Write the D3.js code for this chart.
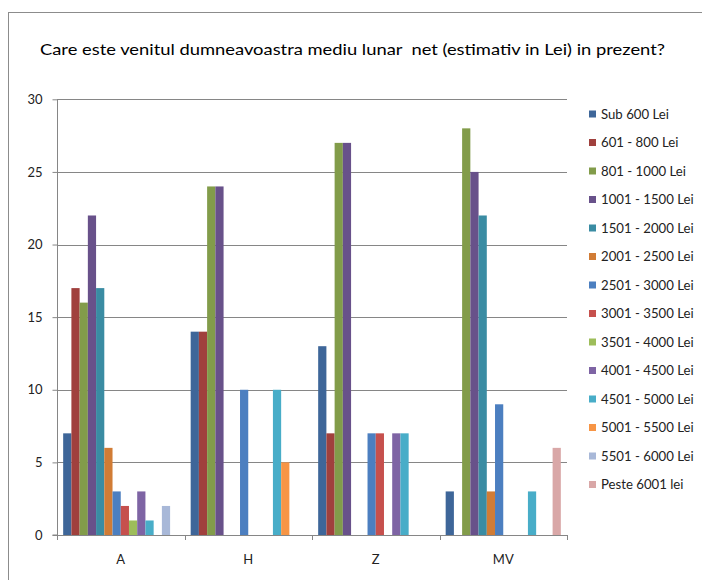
<!DOCTYPE html>
<html><head><meta charset="utf-8">
<script src="https://cdn.jsdelivr.net/npm/d3@7"></script>
<style>body{margin:0;background:#fff}svg{display:block}text{font-family:Lato,"Open Sans",sans-serif}</style>
</head><body><svg id="c" width="702" height="580"></svg>
<script>
const title = "Care este venitul dumneavoastra mediu lunar  net (estimativ in Lei) in prezent?";
const categories = ["A", "H", "Z", "MV"];
const seriesNames = ["Sub 600 Lei","601 - 800 Lei","801 - 1000 Lei","1001 - 1500 Lei","1501 - 2000 Lei","2001 - 2500 Lei","2501 - 3000 Lei","3001 - 3500 Lei","3501 - 4000 Lei","4001 - 4500 Lei","4501 - 5000 Lei","5001 - 5500 Lei","5501 - 6000 Lei","Peste 6001 lei"];
const seriesColors = ["#3E6699","#A0403D","#829C4A","#68518A","#3A8CA3","#D17C35","#4C7FC0","#C6504D","#9DBD5A","#7E64A4","#48ADC8","#F79545","#A8B8D8","#D9A7A7"];
// values[series][category]
const values = [
  [7, 14, 13, 3],
  [17, 14, 7, 0],
  [16, 24, 27, 28],
  [22, 24, 27, 25],
  [17, 0, 0, 22],
  [6, 0, 0, 3],
  [3, 10, 7, 9],
  [2, 0, 7, 0],
  [1, 0, 0, 0],
  [3, 0, 7, 0],
  [1, 10, 7, 3],
  [0, 5, 0, 0],
  [2, 0, 0, 0],
  [0, 0, 0, 6]
];
const yTicks = [0, 5, 10, 15, 20, 25, 30];

const svg = d3.select("#c");
const L = 57, R = 567, T = 99.3, B = 535;

// outer border
svg.append("rect").attr("x", 8.5).attr("y", 12.5).attr("width", 720).attr("height", 600)
  .attr("fill", "none").attr("stroke", "#8c8c8c").attr("stroke-width", 1);

svg.append("text").attr("x", 40).attr("y", 55).attr("font-size", 15).attr("fill", "#000")
  .style("white-space", "pre").attr("xml:space", "preserve")
  .attr("textLength", 625).attr("lengthAdjust", "spacingAndGlyphs").text(title);

const x0 = d3.scaleBand().domain(categories).range([L, R]).paddingInner(0).paddingOuter(0);
const x1 = d3.scaleBand().domain(d3.range(seriesNames.length)).range([0, x0.bandwidth()])
  .paddingInner(0).paddingOuter(0.75);
const y = d3.scaleLinear().domain([0, 30]).range([B, T]);

// gridlines
svg.append("g").selectAll("line").data(yTicks.filter(d => d > 0)).join("line")
  .attr("x1", L).attr("x2", R).attr("y1", d => Math.round(y(d)) + 0.5).attr("y2", d => Math.round(y(d)) + 0.5)
  .attr("stroke", "#868686").attr("stroke-width", 1);

// bars
const g = svg.append("g");
seriesNames.forEach((s, si) => {
  g.append("g").selectAll("rect").data(categories.map((c, ci) => ({c, v: values[si][ci]})).filter(d => d.v > 0)).join("rect")
    .attr("x", d => x0(d.c) + x1(si))
    .attr("width", x1.bandwidth())
    .attr("y", d => y(d.v))
    .attr("height", d => B - y(d.v))
    .attr("fill", seriesColors[si]);
});

// y axis
const yAxis = d3.axisLeft(y).tickValues(yTicks).tickSize(5).tickPadding(10);
const ya = svg.append("g").attr("transform", `translate(${L + 0.5},0)`).call(yAxis);
ya.select(".domain").attr("stroke", "#868686").attr("d", `M-5,${B}H0V${T}`);
ya.selectAll(".tick line").attr("stroke", "#868686");
ya.selectAll(".tick text").attr("font-size", 13).attr("fill", "#222").attr("font-family", "Lato");

// x axis
const xa = svg.append("g").attr("transform", `translate(0,${Math.round(B) + 0.5})`)
  .call(d3.axisBottom(x0).tickSize(0).tickPadding(19));
xa.select(".domain").attr("stroke", "#868686").attr("d", `M${L},0H${R}`);
xa.selectAll(".tick text").attr("font-size", 13).attr("fill", "#222").attr("font-family", "Lato");
svg.append("g").selectAll("line").data(d3.range(categories.length + 1)).join("line")
  .attr("x1", i => Math.round(L + i * x0.bandwidth()) + 0.5).attr("x2", i => Math.round(L + i * x0.bandwidth()) + 0.5)
  .attr("y1", B).attr("y2", B + 5).attr("stroke", "#868686");

// legend
const lg = svg.append("g").selectAll("g").data(seriesNames).join("g")
  .attr("transform", (d, i) => `translate(589,${114 + i * 28.5})`);
lg.append("rect").attr("x", 0).attr("y", -3.5).attr("width", 7).attr("height", 7).attr("fill", (d, i) => seriesColors[i]);
lg.append("text").attr("x", 12).attr("y", 4.5).attr("font-size", 13.2).attr("fill", "#222").text(d => d);
</script></body></html>
